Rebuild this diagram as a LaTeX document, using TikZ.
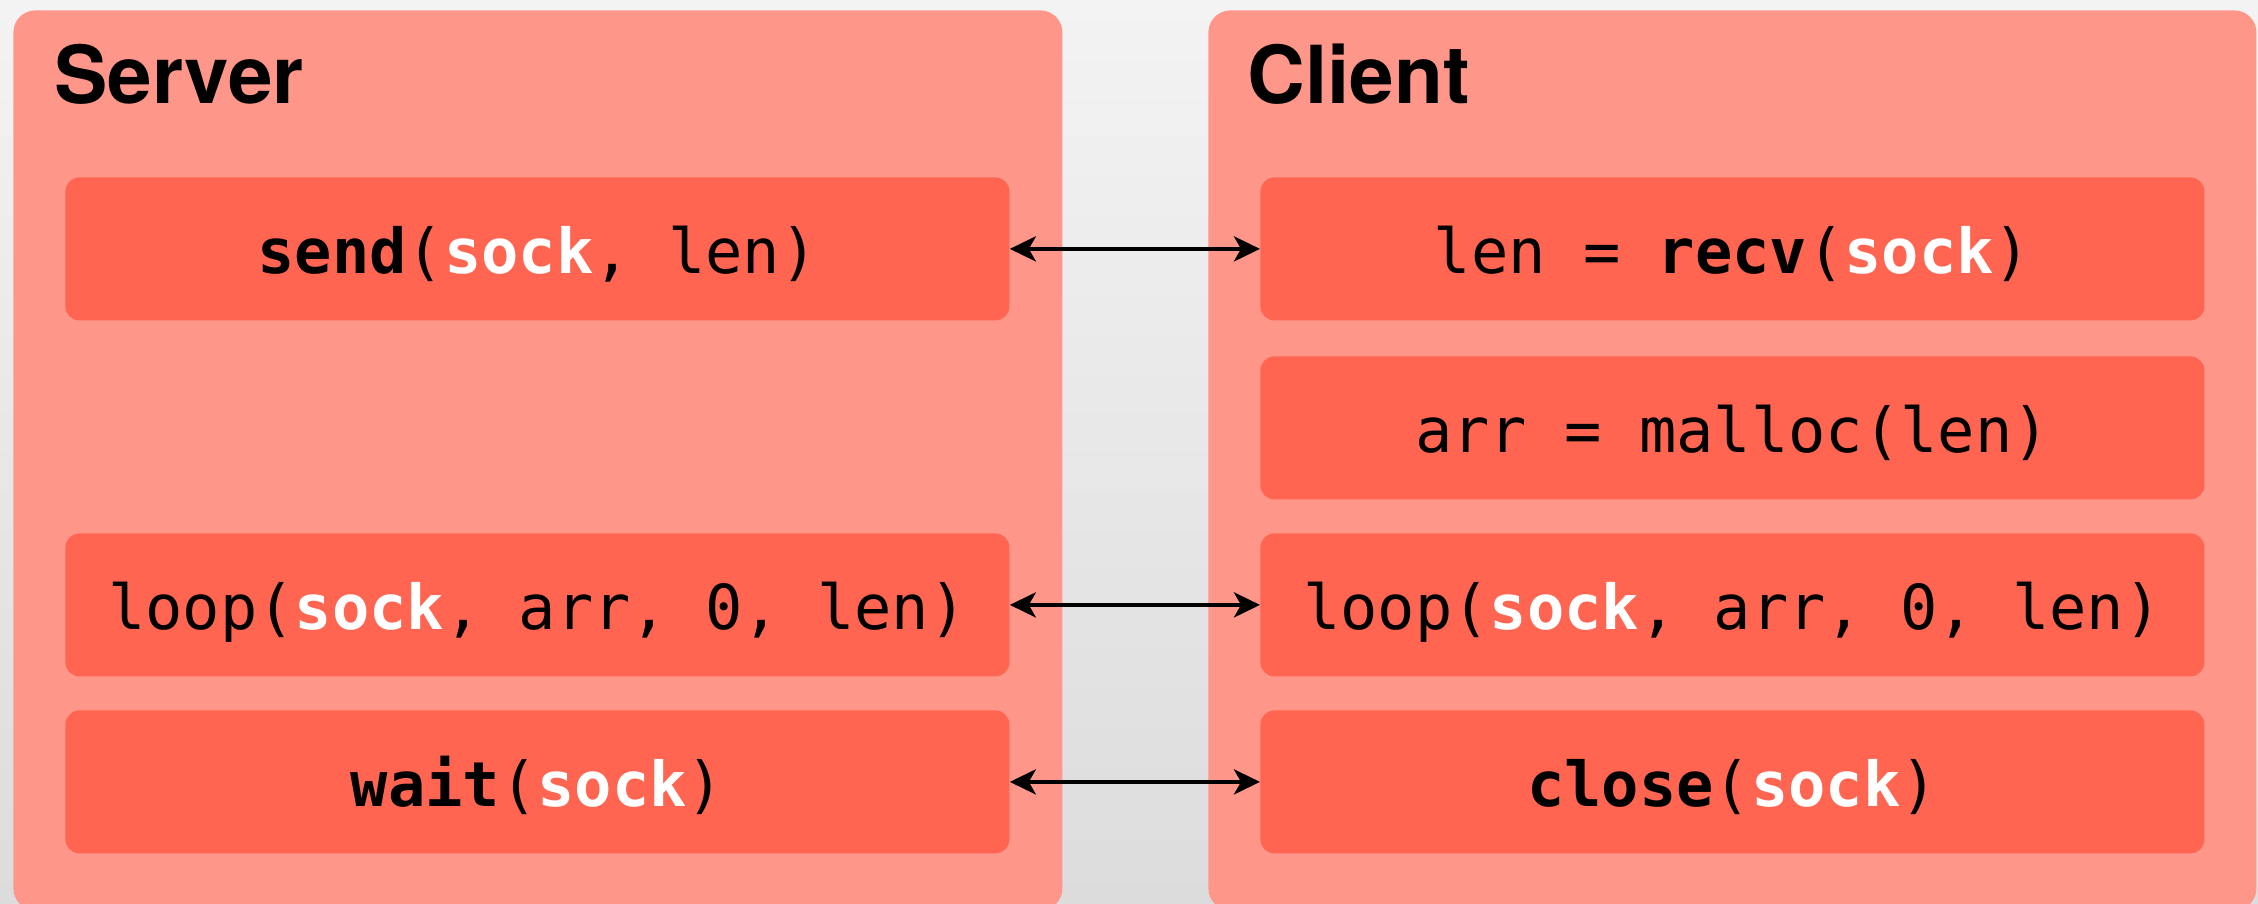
\documentclass[tikz,border=0pt]{standalone}
\usepackage{fontspec}
\setmainfont{TeX Gyre Heros}
\newfontfamily\codefont{DejaVu Sans Mono}
\usetikzlibrary{arrows.meta}

\definecolor{bgtop}{HTML}{F3F3F3}
\definecolor{bgbot}{HTML}{DCDCDC}
\definecolor{panelfill}{HTML}{FF968A}
\definecolor{callfill}{HTML}{FF6550}

% the socket argument, set bold and white
\newcommand\sk{\textcolor{white}{\textbf{sock}}}

\begin{document}
\begin{tikzpicture}[x=0.5pt,y=-0.5pt,
  panelbox/.style={fill=panelfill, rounded corners=11pt, inner sep=0pt,
    anchor=north west, minimum width=524.5pt, minimum height=450pt},
  callbox/.style={fill=callfill, rounded corners=7pt, inner sep=0pt,
    anchor=north west, minimum width=472pt, minimum height=71.5pt,
    font=\codefont\fontsize{31}{31}\selectfont,
    text height=24.8pt, text depth=0pt},
  paneltitle/.style={anchor=base west, inner sep=0pt,
    font=\bfseries\fontsize{40}{40}\selectfont},
  link/.style={{Stealth[length=13pt,width=12.5pt,inset=3.5pt]}-{Stealth[length=13pt,width=12.5pt,inset=3.5pt]},
    line width=2.2pt}]

% page and background
\clip (0,0) rectangle (2258,904);
\shade[top color=bgtop, bottom color=bgbot] (0,0) rectangle (2258,904);

% the two panels
\node[panelbox] (server) at (13,10) {};
\node[panelbox, minimum width=524pt] (client) at (1208,10) {};
\node[paneltitle] (servertitle) at (54,104) {Server};
\node[paneltitle] (clienttitle) at (1247,104) {Client};

% server calls
\node[callbox] (s1) at (65,177) {\textbf{send}(\sk, len)};
\node[callbox] (s3) at (65,533) {loop(\sk, arr, 0, len)};
\node[callbox] (s4) at (65,710) {\textbf{wait}(\sk)};

% client calls
\node[callbox] (c1) at (1260,177) {len = \textbf{recv}(\sk)};
\node[callbox] (c2) at (1260,356) {arr = malloc(len)};
\node[callbox] (c3) at (1260,533) {loop(\sk, arr, 0, len)};
\node[callbox] (c4) at (1260,710) {\textbf{close}(\sk)};

% matching calls on both sides
\draw[link] (s1.east) -- (c1.west);
\draw[link] (s3.east) -- (c3.west);
\draw[link] (s4.east) -- (c4.west);
\end{tikzpicture}
\end{document}
